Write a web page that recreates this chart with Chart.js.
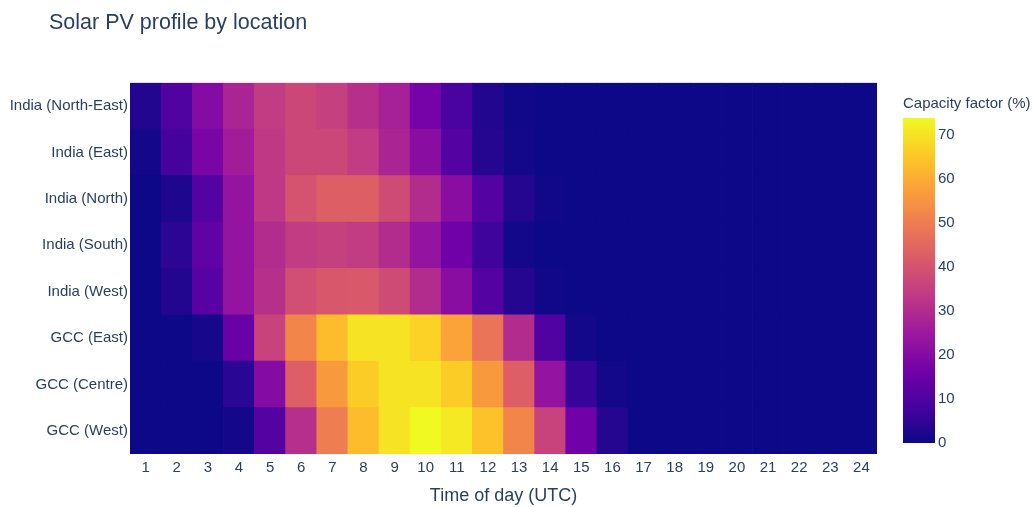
<!DOCTYPE html>
<html>
<head>
<meta charset="utf-8">
<script src="https://cdn.jsdelivr.net/npm/chart.js@4/dist/chart.umd.min.js"></script>
<style>
  html, body { margin: 0; padding: 0; background: #fff; }
  #wrap { position: relative; width: 1035px; height: 507px; }
  #heat { position: absolute; left: 0; top: 0; }
  #bar { position: absolute; left: 903px; top: 0; }
</style>
</head>
<body>
<div id="wrap">
  <canvas id="heat" width="1035" height="507"></canvas>
  <canvas id="bar" width="132" height="507"></canvas>
</div>
<script>
"use strict";

// hours of the day (UTC)
var hours = ['1', '2', '3', '4', '5', '6', '7', '8', '9', '10', '11', '12',
             '13', '14', '15', '16', '17', '18', '19', '20', '21', '22', '23', '24'];

// locations, top to bottom as shown
var locations = ['India (North-East)', 'India (East)', 'India (North)', 'India (South)',
                 'India (West)', 'GCC (East)', 'GCC (Centre)', 'GCC (West)'];

// capacity factor (%) per hour
var indiaNorthEast = [3, 10, 20, 28, 34, 37, 35, 31, 27, 17, 9, 3, 0.5, 0, 0, 0, 0, 0, 0, 0, 0, 0, 0, 0];
var indiaEast      = [1, 8, 18, 26, 33, 37, 37, 34, 28, 21, 11, 3.5, 0.8, 0, 0, 0, 0, 0, 0, 0, 0, 0, 0, 0];
var indiaNorth     = [0, 2.5, 11, 23, 33, 40, 43, 43, 38, 30, 21, 11, 3.5, 0.5, 0, 0, 0, 0, 0, 0, 0, 0, 0, 0];
var indiaSouth     = [0, 4.5, 13, 23, 30, 34, 35, 34, 30, 23, 16, 7, 0.8, 0, 0, 0, 0, 0, 0, 0, 0, 0, 0, 0];
var indiaWest      = [0, 3, 11.5, 23, 31, 39, 41, 41.5, 38, 30, 21, 11, 3.5, 0.5, 0, 0, 0, 0, 0, 0, 0, 0, 0, 0];
var gccEast        = [0, 0, 1.5, 14.5, 36, 52, 63, 70, 70, 67, 58, 48, 30, 10, 0.8, 0, 0, 0, 0, 0, 0, 0, 0, 0];
var gccCentre      = [0, 0, 0, 4, 20, 43, 56, 66, 70, 70, 66, 56, 43, 23, 6, 0.8, 0, 0, 0, 0, 0, 0, 0, 0];
var gccWest        = [0, 0, 0, 1, 11, 31, 50, 63, 70, 73.8, 71, 64, 52, 36, 16, 3.5, 0, 0, 0, 0, 0, 0, 0, 0];

var rows = [indiaNorthEast, indiaEast, indiaNorth, indiaSouth, indiaWest, gccEast, gccCentre, gccWest];

var zMin = 0;
var zMax = 73.8;

// plotly "plasma" colour scale
var plasma = ['#0d0887', '#46039f', '#7201a8', '#9c179e', '#bd3786',
              '#d8576b', '#ed7953', '#fb9f3a', '#fdca26', '#f0f921'];

var fontFamily = '"Liberation Sans", Arial, sans-serif';
var textColor = '#2a3f5f';

Chart.defaults.font.family = fontFamily;
Chart.defaults.color = textColor;

function hexToRgb(h) {
    return [parseInt(h.substr(1, 2), 16), parseInt(h.substr(3, 2), 16), parseInt(h.substr(5, 2), 16)];
}

function colourFor(v) {
    var t = (v - zMin) / (zMax - zMin);
    t = Math.max(0, Math.min(1, t));
    var pos = t * (plasma.length - 1);
    var i = Math.min(Math.floor(pos), plasma.length - 2);
    var f = pos - i;
    var a = hexToRgb(plasma[i]), b = hexToRgb(plasma[i + 1]);
    var c = a.map(function(x, k) { return Math.round(x + (b[k] - x) * f); });
    return 'rgb(' + c.join(',') + ')';
}

// stacked bars of height 1 make the cells; the bottom row goes first
var datasets = locations.map(function(name, i) {
    return {
        label: name,
        data: hours.map(function() { return 1; }),
        values: rows[i],
        backgroundColor: rows[i].map(colourFor),
        borderWidth: 0,
        barPercentage: 1,
        categoryPercentage: 1
    };
}).reverse();

// move the title right, the y axis keeps the full left margin for its labels
var titleShift = {
    id: 'titleShift',
    afterLayout: function(chart) {
        if (chart.titleBlock) chart.titleBlock.left = 49;
    }
};

new Chart(document.getElementById('heat'), {
    type: 'bar',
    data: { labels: hours, datasets: datasets },
    plugins: [titleShift],
    options: {
        responsive: false,
        animation: false,
        layout: { padding: { left: 0, right: 158, top: 0, bottom: 0 } },
        plugins: {
            legend: { display: false },
            title: {
                display: true,
                text: 'Solar PV profile by location',
                align: 'start',
                color: textColor,
                font: { size: 21.5, weight: 'normal' },
                padding: { top: 10, bottom: 47 }
            },
            tooltip: {
                callbacks: {
                    title: function(items) { return items[0].dataset.label; },
                    label: function(item) {
                        return 'Hour ' + item.label + ': ' + item.dataset.values[item.dataIndex] + '%';
                    }
                }
            }
        },
        scales: {
            x: {
                stacked: true,
                grid: { display: false, drawTicks: false },
                border: { display: false },
                ticks: { color: textColor, font: { size: 15 }, padding: 5, maxRotation: 0, autoSkip: false },
                title: { display: true, text: 'Time of day (UTC)', color: textColor, font: { size: 18 }, padding: 0 },
                afterFit: function(s) { s.height = 53; }
            },
            y: {
                stacked: true,
                min: 0,
                max: 8,
                grid: { display: false, drawTicks: false },
                border: { display: false },
                afterBuildTicks: function(s) {
                    s.ticks = locations.map(function(_, i) { return { value: i + 0.5 }; });
                },
                ticks: {
                    color: textColor,
                    font: { size: 15 },
                    padding: 2,
                    callback: function(v) { return locations[locations.length - 1 - Math.floor(v)]; }
                },
                afterFit: function(s) { s.width = 130; }
            }
        }
    }
});

// colour bar
new Chart(document.getElementById('bar'), {
    type: 'bar',
    data: {
        labels: [''],
        datasets: [{
            data: [[zMin, zMax]],
            borderWidth: 0,
            barPercentage: 1,
            categoryPercentage: 1,
            backgroundColor: function(c) {
                var area = c.chart.chartArea;
                if (!area) return plasma[0];
                var g = c.chart.ctx.createLinearGradient(0, area.bottom, 0, area.top);
                plasma.forEach(function(col, i) { g.addColorStop(i / (plasma.length - 1), col); });
                return g;
            }
        }]
    },
    options: {
        responsive: false,
        animation: false,
        layout: { padding: { left: 0, right: 0, top: 0, bottom: 64 } },
        plugins: {
            legend: { display: false },
            tooltip: { enabled: false },
            title: {
                display: true,
                text: 'Capacity factor (%)',
                align: 'start',
                color: textColor,
                font: { size: 15, weight: 'normal' },
                padding: { top: 95, bottom: 5 }
            }
        },
        scales: {
            x: { display: false },
            y: {
                position: 'right',
                min: zMin,
                max: zMax,
                grid: { display: false, drawTicks: false },
                border: { display: false },
                ticks: { stepSize: 10, includeBounds: false, color: textColor, font: { size: 15 }, padding: 3 },
                afterFit: function(s) { s.width = 100; }
            }
        }
    }
});
</script>
</body>
</html>
